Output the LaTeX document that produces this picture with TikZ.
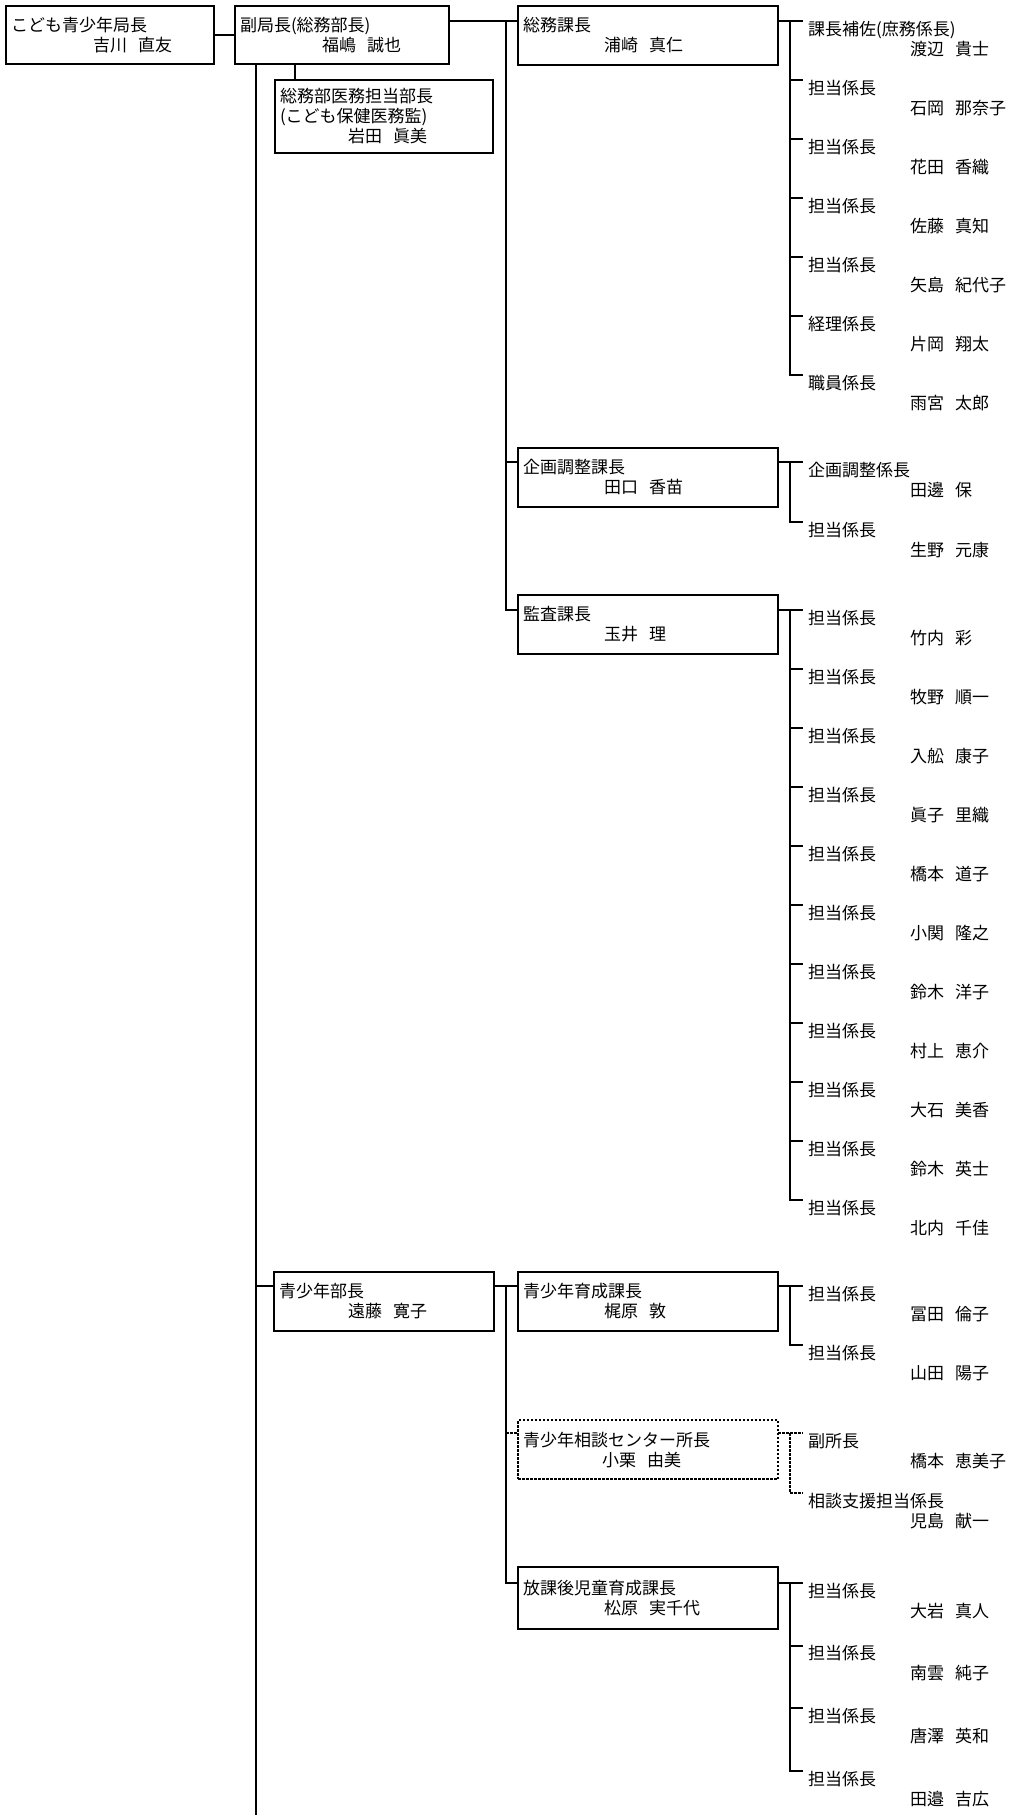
\documentclass[tikz,border=0pt]{standalone}
\usepackage{fontspec}
\setmainfont{Noto Sans CJK JP}
\usetikzlibrary{positioning}
\newcommand{\jsp}{\hspace{.65em}}
\tikzstyle{office} = [
    rectangle,
    draw=black,
    line width=2pt,
    anchor=north west,
    align=left,
    inner xsep=5pt,
    inner ysep=0pt,
    outer sep=0pt,
    minimum height=59pt
]
\tikzstyle{section} = [office, text width=250pt]
\tikzstyle{member} = [
    anchor=north west,
    align=left,
    text width=200pt,
    inner xsep=5pt,
    inner ysep=0pt,
    outer sep=0pt
]
\tikzstyle{link} = [line width=2pt]
\tikzstyle{dashlink} = [line width=1.3pt, dash pattern=on 2.5pt off 1.5pt]

\begin{document}
\begin{tikzpicture}[x=1pt, y=-1pt, node distance=59pt,
    font=\fontsize{17pt}{20pt}\selectfont]
\useasboundingbox (0,0) rectangle (1010,1815);

\coordinate (trunk) at (256,1815);
\coordinate (bus) at (506,0);
\coordinate (spine) at (790,0);

% top
\node (kyoku) [office, text width=198pt, minimum height=58pt] at (6,6)
{こども青少年局長\\\hspace*{82pt}吉川\jsp 直友};

\node (fuku) [office, text width=204pt, minimum height=58pt] at (235,6)
{副局長(総務部長)\\\hspace*{82pt}福嶋\jsp 誠也};

\node (imu) [office, text width=208pt, minimum height=73pt] at (275,80)
{総務部医務担当部長\\(こども保健医務監)\\\hspace*{68pt}岩田\jsp 眞美};
\coordinate (imutop) at ([xshift=20pt]imu.north west);

% soumu
\node (soumu) [section] at (518,6)
{総務課長\\\hspace*{81pt}浦崎\jsp 真仁};

\node (s1) [member] at ([xshift=25pt,yshift=-15pt]soumu.north east)
{課長補佐(庶務係長)\\\hspace*{102pt}渡辺\jsp 貴士};
\node (s2) [member, below of=s1] {担当係長\\\hspace*{102pt}石岡\jsp 那奈子};
\node (s3) [member, below of=s2] {担当係長\\\hspace*{102pt}花田\jsp 香織};
\node (s4) [member, below of=s3] {担当係長\\\hspace*{102pt}佐藤\jsp 真知};
\node (s5) [member, below of=s4] {担当係長\\\hspace*{102pt}矢島\jsp 紀代子};
\node (s6) [member, below of=s5] {経理係長\\\hspace*{102pt}片岡\jsp 翔太};
\node (s7) [member, below of=s6] {職員係長\\\hspace*{102pt}雨宮\jsp 太郎};

% kikaku
\node (kikaku) [section] at (518,448)
{企画調整課長\\\hspace*{81pt}田口\jsp 香苗};

\node (g1) [member] at ([xshift=25pt,yshift=-14pt]kikaku.north east)
{企画調整係長\\\hspace*{102pt}田邊\jsp 保};
\node (g2) [member, node distance=60pt, below of=g1] {担当係長\\\hspace*{102pt}生野\jsp 元康};

% kansa
\node (kansa) [section] at (518,595)
{監査課長\\\hspace*{81pt}玉井\jsp 理};

\node (k1) [member] at ([xshift=25pt,yshift=-15pt]kansa.north east)
{担当係長\\\hspace*{102pt}竹内\jsp 彩};
\node (k2) [member, below of=k1] {担当係長\\\hspace*{102pt}牧野\jsp 順一};
\node (k3) [member, below of=k2] {担当係長\\\hspace*{102pt}入舩\jsp 康子};
\node (k4) [member, below of=k3] {担当係長\\\hspace*{102pt}眞子\jsp 里織};
\node (k5) [member, below of=k4] {担当係長\\\hspace*{102pt}橋本\jsp 道子};
\node (k6) [member, below of=k5] {担当係長\\\hspace*{102pt}小関\jsp 隆之};
\node (k7) [member, below of=k6] {担当係長\\\hspace*{102pt}鈴木\jsp 洋子};
\node (k8) [member, below of=k7] {担当係長\\\hspace*{102pt}村上\jsp 恵介};
\node (k9) [member, below of=k8] {担当係長\\\hspace*{102pt}大石\jsp 美香};
\node (k10) [member, below of=k9] {担当係長\\\hspace*{102pt}鈴木\jsp 英士};
\node (k11) [member, below of=k10] {担当係長\\\hspace*{102pt}北内\jsp 千佳};

% seishonen-bu
\node (bu) [office, text width=210pt] at (274,1272)
{青少年部長\\\hspace*{69pt}遠藤\jsp 寛子};

\node (ikusei) [section] at (518,1272)
{青少年育成課長\\\hspace*{81pt}梶原\jsp 敦};

\node (h1) [member] at ([xshift=25pt,yshift=-14pt]ikusei.north east)
{担当係長\\\hspace*{102pt}冨田\jsp 倫子};
\node (h2) [member, below of=h1] {担当係長\\\hspace*{102pt}山田\jsp 陽子};

\node (soudan) [section, dashlink] at (518,1420)
{青少年相談センター所長\\\hspace*{79pt}小栗\jsp 由美};

\node (c1) [member] at ([xshift=25pt,yshift=-13pt]soudan.north east)
{副所長\\\hspace*{102pt}橋本\jsp 恵美子};
\node (c2) [member, node distance=60pt, below of=c1] {相談支援担当係長\\\hspace*{102pt}児島\jsp 献一};

\node (houkago) [section, minimum height=62pt] at (518,1567)
{放課後児童育成課長\\\hspace*{81pt}松原\jsp 実千代};

\node (q1) [member] at ([xshift=25pt,yshift=-16pt]houkago.north east)
{担当係長\\\hspace*{102pt}大岩\jsp 真人};
\node (q2) [member, node distance=62.7pt, below of=q1] {担当係長\\\hspace*{102pt}南雲\jsp 純子};
\node (q3) [member, node distance=62.7pt, below of=q2] {担当係長\\\hspace*{102pt}唐澤\jsp 英和};
\node (q4) [member, node distance=62.7pt, below of=q3] {担当係長\\\hspace*{102pt}田邉\jsp 吉広};

% connectors
\draw [link] (kyoku) -- (fuku);
\draw [link] (trunk |- fuku.south) -- (trunk);
\draw [link] (imutop) -- (imutop |- fuku.south);

\draw [link] (fuku.east |- s1.north west) -- (soumu.west |- s1.north west);
\draw [link] (bus |- s1.north west) |- (kansa.west |- k1.north west);
\draw [link] (bus |- g1.north west) -- (kikaku.west |- g1.north west);

\draw [link] (soumu.east |- s1.north west) -- (s1.north west);
\draw [link] (spine |- s1.north west) |- (s7.north west);
\draw [link] (spine |- s2.north west) -- (s2.north west);
\draw [link] (spine |- s3.north west) -- (s3.north west);
\draw [link] (spine |- s4.north west) -- (s4.north west);
\draw [link] (spine |- s5.north west) -- (s5.north west);
\draw [link] (spine |- s6.north west) -- (s6.north west);

\draw [link] (kikaku.east |- g1.north west) -- (g1.north west);
\draw [link] (spine |- g1.north west) |- (g2.north west);

\draw [link] (kansa.east |- k1.north west) -- (k1.north west);
\draw [link] (spine |- k1.north west) |- (k11.north west);
\draw [link] (spine |- k2.north west) -- (k2.north west);
\draw [link] (spine |- k3.north west) -- (k3.north west);
\draw [link] (spine |- k4.north west) -- (k4.north west);
\draw [link] (spine |- k5.north west) -- (k5.north west);
\draw [link] (spine |- k6.north west) -- (k6.north west);
\draw [link] (spine |- k7.north west) -- (k7.north west);
\draw [link] (spine |- k8.north west) -- (k8.north west);
\draw [link] (spine |- k9.north west) -- (k9.north west);
\draw [link] (spine |- k10.north west) -- (k10.north west);

\draw [link] (trunk |- h1.north west) -- (bu.west |- h1.north west);
\draw [link] (bu.east |- h1.north west) -- (ikusei.west |- h1.north west);
\draw [link] (bus |- h1.north west) |- (houkago.west |- q1.north west);
\draw [dashlink] (bus |- c1.north west) -- (soudan.west |- c1.north west);

\draw [link] (ikusei.east |- h1.north west) -- (h1.north west);
\draw [link] (spine |- h1.north west) |- (h2.north west);

\draw [dashlink] (soudan.east |- c1.north west) -- (c1.north west);
\draw [dashlink] (spine |- c1.north west) |- (c2.north west);

\draw [link] (houkago.east |- q1.north west) -- (q1.north west);
\draw [link] (spine |- q1.north west) |- (q4.north west);
\draw [link] (spine |- q2.north west) -- (q2.north west);
\draw [link] (spine |- q3.north west) -- (q3.north west);

\end{tikzpicture}
\end{document}
